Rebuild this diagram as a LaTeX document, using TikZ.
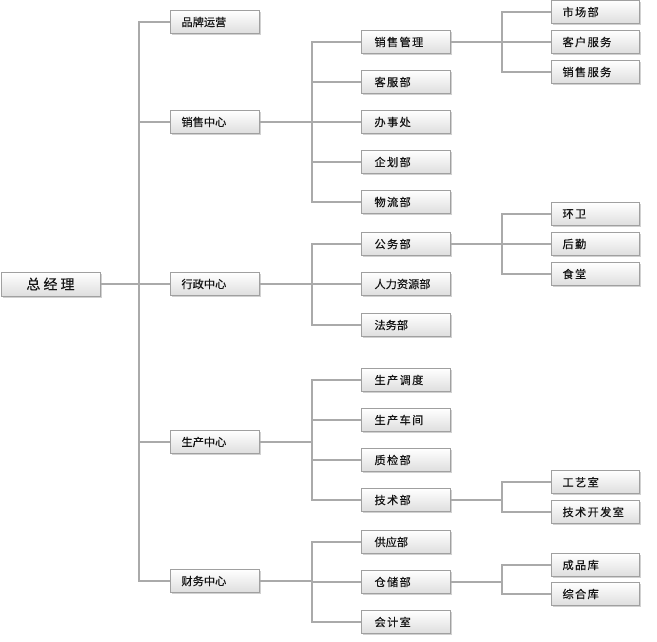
\documentclass[tikz,border=0pt]{standalone}
\usepackage{fontspec}
\newfontfamily\cjk[FakeBold=0.35]{Noto Sans CJK SC}
\newfontfamily\cjkw[LetterSpace=12,FakeBold=0.35]{Noto Sans CJK SC}
\newfontfamily\cjkr[LetterSpace=22,FakeBold=0.35]{Noto Sans CJK SC}
\usetikzlibrary{shadows}
\definecolor{linegray}{RGB}{170,170,170}
\definecolor{boxline}{RGB}{160,160,160}
\definecolor{boxbot}{RGB}{222,222,222}
\definecolor{txt}{RGB}{20,20,20}
\tikzset{
  box/.style={rectangle, draw=boxline, line width=1pt, top color=white, bottom color=boxbot,
    minimum height=23pt, text width=#1, inner ysep=0pt, align=left, text=txt,
    font=\cjk\fontsize{11.2}{12}\selectfont,
    drop shadow={shadow xshift=1.5pt, shadow yshift=-1.5pt, opacity=0.18, fill=black}},
  box/.default=66pt,
  lone/.style={box=66pt, inner xsep=11.5pt},
  ltwo/.style={box=62pt, inner xsep=13.5pt},
  lthree/.style={box=66pt, inner xsep=11pt},
  wide/.style={font=\cjkw\fontsize{11.2}{12}\selectfont},
  conn/.style={draw=linegray, line width=2pt},
}
\begin{document}
\begin{tikzpicture}[x=1pt,y=-1pt]
\useasboundingbox (0,0) rectangle (657,641);
\fill[white] (0,0) rectangle (657,641);
% root
\node[box=77pt, inner xsep=11pt, align=center, minimum width=99pt, minimum height=24pt,
  font=\cjkr\fontsize{14}{15}\selectfont] (root) at (50.5,284) {总经理};
% level 1
\node[lone] (a1) at (214.5,22) {品牌运营};
\node[lone] (a2) at (214.5,122) {销售中心};
\node[lone] (a3) at (214.5,284) {行政中心};
\node[lone] (a4) at (214.5,442) {生产中心};
\node[lone] (a5) at (214.5,581) {财务中心};
% level 2
\node[ltwo,wide] (b1) at (405.5,42) {销售管理};
\node[ltwo,wide] (b2) at (405.5,82) {客服部};
\node[ltwo,wide] (b3) at (405.5,122) {办事处};
\node[ltwo,wide] (b4) at (405.5,162) {企划部};
\node[ltwo,wide] (b5) at (405.5,202) {物流部};
\node[ltwo,wide] (b6) at (405.5,244) {公务部};
\node[ltwo] (b7) at (405.5,284) {人力资源部};
\node[ltwo] (b8) at (405.5,325) {法务部};
\node[ltwo,wide] (b9) at (405.5,380) {生产调度};
\node[ltwo,wide] (b10) at (405.5,420) {生产车间};
\node[ltwo,wide] (b11) at (405.5,460) {质检部};
\node[ltwo,wide] (b12) at (405.5,500) {技术部};
\node[ltwo] (b13) at (405.5,542) {供应部};
\node[ltwo,wide] (b14) at (405.5,582) {仓储部};
\node[ltwo,wide] (b15) at (405.5,622) {会计室};
% level 3
\node[lthree,wide] (c1) at (595.5,12) {市场部};
\node[lthree,wide] (c2) at (595.5,42) {客户服务};
\node[lthree,wide] (c3) at (595.5,72) {销售服务};
\node[lthree,wide] (c4) at (595.5,214) {环卫};
\node[lthree,wide] (c5) at (595.5,244) {后勤};
\node[lthree,wide] (c6) at (595.5,274) {食堂};
\node[lthree,wide] (c7) at (595.5,482) {工艺室};
\node[lthree,wide] (c8) at (595.5,512) {技术开发室};
\node[lthree,wide] (c9) at (595.5,565) {成品库};
\node[lthree,wide] (c10) at (595.5,594) {综合库};
% junctions
\coordinate (j0) at (139,284);
\coordinate (j2) at (312,122);
\coordinate (j3) at (312,284);
\coordinate (j4) at (312,442);
\coordinate (j5) at (312,581);
\coordinate (k1) at (502,42);
\coordinate (k6) at (502,244);
\coordinate (k12) at (502,500);
\coordinate (k14) at (502,582);
% connectors
\draw[conn] (root.east) -- (j0);
\foreach \n in {a1,a2,a3,a4,a5} \draw[conn] (j0) |- (\n.west);
\draw[conn] (a2.east) -- (j2);
\foreach \n in {b1,b2,b3,b4,b5} \draw[conn] (j2) |- (\n.west);
\draw[conn] (a3.east) -- (j3);
\foreach \n in {b6,b7,b8} \draw[conn] (j3) |- (\n.west);
\draw[conn] (a4.east) -- (j4);
\foreach \n in {b9,b10,b11,b12} \draw[conn] (j4) |- (\n.west);
\draw[conn] (a5.east) -- (j5);
\foreach \n in {b13,b14,b15} \draw[conn] (j5) |- (\n.west);
\draw[conn] (b1.east) -- (k1);
\foreach \n in {c1,c2,c3} \draw[conn] (k1) |- (\n.west);
\draw[conn] (b6.east) -- (k6);
\foreach \n in {c4,c5,c6} \draw[conn] (k6) |- (\n.west);
\draw[conn] (b12.east) -- (k12);
\foreach \n in {c7,c8} \draw[conn] (k12) |- (\n.west);
\draw[conn] (b14.east) -- (k14);
\foreach \n in {c9,c10} \draw[conn] (k14) |- (\n.west);
\end{tikzpicture}
\end{document}
